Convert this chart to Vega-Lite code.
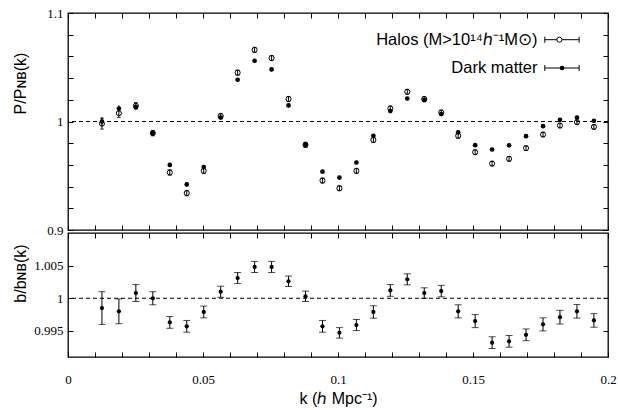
{
  "$schema": "https://vega.github.io/schema/vega-lite/v6.json",
  "background": "white",
  "padding": {"left": 11, "top": 6, "right": 0, "bottom": 0},
  "spacing": 3,
  "bounds": "flush",
  "datasets": {
    "top": [
      {"k": 0.01257, "dm": 1.000, "dmErr": 0.004, "halo": 0.998, "haloErr": 0.005},
      {"k": 0.01885, "dm": 1.012, "dmErr": 0.003, "halo": 1.0077, "haloErr": 0.004},
      {"k": 0.02513, "dm": 1.0133, "dmErr": 0.0025, "halo": 1.0145, "haloErr": 0.003},
      {"k": 0.03142, "dm": 0.9893, "dmErr": 0.002, "halo": 0.9893, "haloErr": 0.0025},
      {"k": 0.0377, "dm": 0.960, "dmErr": 0.002, "halo": 0.953, "haloErr": 0.0025},
      {"k": 0.04398, "dm": 0.942, "dmErr": 0.002, "halo": 0.934, "haloErr": 0.0025},
      {"k": 0.05027, "dm": 0.958, "dmErr": 0.002, "halo": 0.9545, "haloErr": 0.0025},
      {"k": 0.05655, "dm": 1.0037, "dmErr": 0.002, "halo": 1.005, "haloErr": 0.0025},
      {"k": 0.06283, "dm": 1.0385, "dmErr": 0.0018, "halo": 1.045, "haloErr": 0.0024},
      {"k": 0.06912, "dm": 1.056, "dmErr": 0.0018, "halo": 1.066, "haloErr": 0.0024},
      {"k": 0.0754, "dm": 1.048, "dmErr": 0.0018, "halo": 1.0585, "haloErr": 0.0024},
      {"k": 0.08168, "dm": 1.0148, "dmErr": 0.0018, "halo": 1.0207, "haloErr": 0.0024},
      {"k": 0.08796, "dm": 0.9785, "dmErr": 0.0018, "halo": 0.9785, "haloErr": 0.0024},
      {"k": 0.09425, "dm": 0.9538, "dmErr": 0.0017, "halo": 0.9456, "haloErr": 0.0023},
      {"k": 0.10053, "dm": 0.9483, "dmErr": 0.0017, "halo": 0.9385, "haloErr": 0.0023},
      {"k": 0.10681, "dm": 0.9622, "dmErr": 0.0017, "halo": 0.9545, "haloErr": 0.0023},
      {"k": 0.1131, "dm": 0.9868, "dmErr": 0.0017, "halo": 0.983, "haloErr": 0.0023},
      {"k": 0.11938, "dm": 1.0096, "dmErr": 0.0017, "halo": 1.012, "haloErr": 0.0023},
      {"k": 0.12566, "dm": 1.0212, "dmErr": 0.0016, "halo": 1.0274, "haloErr": 0.0022},
      {"k": 0.13195, "dm": 1.0197, "dmErr": 0.0016, "halo": 1.0207, "haloErr": 0.0022},
      {"k": 0.13823, "dm": 1.0068, "dmErr": 0.0016, "halo": 1.0083, "haloErr": 0.0022},
      {"k": 0.14451, "dm": 0.990, "dmErr": 0.0016, "halo": 0.9868, "haloErr": 0.0022},
      {"k": 0.1508, "dm": 0.9782, "dmErr": 0.0016, "halo": 0.9717, "haloErr": 0.0022},
      {"k": 0.15708, "dm": 0.9742, "dmErr": 0.0015, "halo": 0.9612, "haloErr": 0.0021},
      {"k": 0.16336, "dm": 0.978, "dmErr": 0.0015, "halo": 0.9656, "haloErr": 0.0021},
      {"k": 0.16965, "dm": 0.9865, "dmErr": 0.0015, "halo": 0.9754, "haloErr": 0.0021},
      {"k": 0.17593, "dm": 0.9957, "dmErr": 0.0015, "halo": 0.988, "haloErr": 0.0021},
      {"k": 0.18221, "dm": 1.0016, "dmErr": 0.0015, "halo": 0.9963, "haloErr": 0.0021},
      {"k": 0.1885, "dm": 1.0037, "dmErr": 0.0015, "halo": 0.9994, "haloErr": 0.002},
      {"k": 0.19478, "dm": 1.0007, "dmErr": 0.0015, "halo": 0.995, "haloErr": 0.002}
    ],
    "bottom": [
      {"k": 0.01257, "b": 0.9985, "err": 0.0025},
      {"k": 0.01885, "b": 0.9980, "err": 0.0019},
      {"k": 0.02513, "b": 1.0008, "err": 0.0013},
      {"k": 0.03142, "b": 1.0000, "err": 0.001},
      {"k": 0.0377, "b": 0.9963, "err": 0.0009},
      {"k": 0.04398, "b": 0.9957, "err": 0.0009},
      {"k": 0.05027, "b": 0.9979, "err": 0.0009},
      {"k": 0.05655, "b": 1.0010, "err": 0.00085},
      {"k": 0.06283, "b": 1.0031, "err": 0.00085},
      {"k": 0.06912, "b": 1.0048, "err": 0.00085},
      {"k": 0.0754, "b": 1.0048, "err": 0.00085},
      {"k": 0.08168, "b": 1.0026, "err": 0.0008},
      {"k": 0.08796, "b": 1.0003, "err": 0.0008},
      {"k": 0.09425, "b": 0.9957, "err": 0.0009},
      {"k": 0.10053, "b": 0.9947, "err": 0.0008},
      {"k": 0.10681, "b": 0.9959, "err": 0.00085},
      {"k": 0.1131, "b": 0.9979, "err": 0.00095},
      {"k": 0.11938, "b": 1.0012, "err": 0.0009},
      {"k": 0.12566, "b": 1.0029, "err": 0.00085},
      {"k": 0.13195, "b": 1.0008, "err": 0.0008},
      {"k": 0.13823, "b": 1.0011, "err": 0.00088},
      {"k": 0.14451, "b": 0.9980, "err": 0.001},
      {"k": 0.1508, "b": 0.9965, "err": 0.001},
      {"k": 0.15708, "b": 0.9932, "err": 0.0009},
      {"k": 0.16336, "b": 0.9934, "err": 0.0009},
      {"k": 0.16965, "b": 0.9944, "err": 0.0009},
      {"k": 0.17593, "b": 0.9960, "err": 0.001},
      {"k": 0.18221, "b": 0.9971, "err": 0.00105},
      {"k": 0.1885, "b": 0.9980, "err": 0.00104},
      {"k": 0.19478, "b": 0.9966, "err": 0.00104}
    ]
  },
  "vconcat": [
    {
      "width": 540,
      "height": 217,
      "layer": [
        {
          "data": {"values": [{}]},
          "mark": {"type": "rule", "strokeDash": [4, 3], "color": "black", "strokeWidth": 1},
          "encoding": {
            "y": {"datum": 1, "type": "quantitative", "scale": {"domain": [0.9, 1.1], "nice": false, "zero": false}, "axis": null}
          }
        },
        {
          "data": {"name": "top"},
          "mark": {"type": "errorbar", "ticks": {"size": 4}, "color": "black", "thickness": 1},
          "encoding": {
            "x": {"field": "k", "type": "quantitative", "scale": {"domain": [0, 0.2], "nice": false, "zero": false}, "axis": null},
            "y": {"field": "halo", "type": "quantitative", "scale": {"domain": [0.9, 1.1], "nice": false, "zero": false}, "axis": null},
            "yError": {"field": "haloErr"}
          }
        },
        {
          "data": {"name": "top"},
          "mark": {"type": "errorbar", "color": "black", "thickness": 1},
          "encoding": {
            "x": {"field": "k", "type": "quantitative", "axis": null},
            "y": {"field": "dm", "type": "quantitative", "axis": null},
            "yError": {"field": "dmErr"}
          }
        },
        {
          "data": {"name": "top"},
          "mark": {"type": "point", "shape": "circle", "filled": false, "size": 26, "stroke": "black", "strokeWidth": 1, "opacity": 1},
          "encoding": {
            "x": {"field": "k", "type": "quantitative", "axis": {"orient": "top", "values": [0,0.01,0.02,0.03,0.04,0.05,0.06,0.07,0.08,0.09,0.1,0.11,0.12,0.13,0.14,0.15,0.16,0.17,0.18,0.19,0.2], "labels": false, "offset": -5, "tickSize": 5, "title": null, "domain": false}},
            "y": {"field": "halo", "type": "quantitative", "axis": {"orient": "right", "values": [0.9,0.92,0.94,0.96,0.98,1,1.02,1.04,1.06,1.08,1.1], "labels": false, "offset": -5, "tickSize": 5, "title": null, "domain": false}}
          }
        },
        {
          "data": {"name": "top"},
          "mark": {"type": "point", "shape": "circle", "filled": true, "size": 22, "color": "black", "opacity": 1},
          "encoding": {
            "x": {"field": "k", "type": "quantitative", "axis": {"orient": "bottom", "values": [0,0.01,0.02,0.03,0.04,0.05,0.06,0.07,0.08,0.09,0.1,0.11,0.12,0.13,0.14,0.15,0.16,0.17,0.18,0.19,0.2], "labels": false, "offset": -5, "tickSize": 5, "title": null, "domain": false}},
            "y": {"field": "dm", "type": "quantitative", "axis": {"orient": "left", "values": [0.9,0.92,0.94,0.96,0.98,1,1.02,1.04,1.06,1.08,1.1], "labelExpr": "abs(datum.value*10-round(datum.value*10))<0.000001 ? format(datum.value,'~g') : ''", "offset": -5, "tickSize": 5, "labelPadding": 5, "title": "P/Pɴʙ(k)", "titleX": -45, "titleY": 70, "domain": false}}
          }
        },
        {
          "data": {"values": [{}]},
          "mark": {"type": "text", "text": "Halos (M>10¹⁴ℎ⁻¹M⊙)", "align": "right", "baseline": "middle", "font": "Liberation Sans", "fontSize": 16.5, "color": "black"},
          "encoding": {
            "x": {"datum": 0.1739, "type": "quantitative", "axis": null},
            "y": {"datum": 1.0754, "type": "quantitative", "axis": null}
          }
        },
        {
          "data": {"values": [{}]},
          "mark": {"type": "text", "text": "Dark matter", "align": "right", "baseline": "middle", "font": "Liberation Sans", "fontSize": 16.5, "color": "black"},
          "encoding": {
            "x": {"datum": 0.1739, "type": "quantitative", "axis": null},
            "y": {"datum": 1.0493, "type": "quantitative", "axis": null}
          }
        },
        {
          "data": {"values": [{}]},
          "mark": {"type": "rule", "color": "black", "strokeWidth": 1},
          "encoding": {
            "x": {"datum": 0.1766, "type": "quantitative", "axis": null},
            "x2": {"datum": 0.1893},
            "y": {"datum": 1.0754, "type": "quantitative", "axis": null}
          }
        },
        {
          "data": {"values": [{}]},
          "mark": {"type": "rule", "color": "black", "strokeWidth": 1},
          "encoding": {
            "x": {"datum": 0.1766, "type": "quantitative", "axis": null},
            "x2": {"datum": 0.1893},
            "y": {"datum": 1.0493, "type": "quantitative", "axis": null}
          }
        },
        {
          "data": {"values": [{}]},
          "mark": {"type": "tick", "orient": "vertical", "size": 6, "thickness": 1, "color": "black", "opacity": 1},
          "encoding": {
            "x": {"datum": 0.1766, "type": "quantitative", "axis": null},
            "y": {"datum": 1.0754, "type": "quantitative", "axis": null}
          }
        },
        {
          "data": {"values": [{}]},
          "mark": {"type": "tick", "orient": "vertical", "size": 6, "thickness": 1, "color": "black", "opacity": 1},
          "encoding": {
            "x": {"datum": 0.1893, "type": "quantitative", "axis": null},
            "y": {"datum": 1.0754, "type": "quantitative", "axis": null}
          }
        },
        {
          "data": {"values": [{}]},
          "mark": {"type": "tick", "orient": "vertical", "size": 6, "thickness": 1, "color": "black", "opacity": 1},
          "encoding": {
            "x": {"datum": 0.1766, "type": "quantitative", "axis": null},
            "y": {"datum": 1.0493, "type": "quantitative", "axis": null}
          }
        },
        {
          "data": {"values": [{}]},
          "mark": {"type": "tick", "orient": "vertical", "size": 6, "thickness": 1, "color": "black", "opacity": 1},
          "encoding": {
            "x": {"datum": 0.1893, "type": "quantitative", "axis": null},
            "y": {"datum": 1.0493, "type": "quantitative", "axis": null}
          }
        },
        {
          "data": {"values": [{}]},
          "mark": {"type": "point", "shape": "circle", "filled": true, "fill": "white", "size": 26, "stroke": "black", "strokeWidth": 1, "opacity": 1},
          "encoding": {
            "x": {"datum": 0.182, "type": "quantitative", "axis": null},
            "y": {"datum": 1.0754, "type": "quantitative", "axis": null}
          }
        },
        {
          "data": {"values": [{}]},
          "mark": {"type": "point", "shape": "circle", "filled": true, "size": 22, "color": "black", "opacity": 1},
          "encoding": {
            "x": {"datum": 0.183, "type": "quantitative", "axis": null},
            "y": {"datum": 1.0493, "type": "quantitative", "axis": null}
          }
        }
      ],
      "resolve": {"axis": {"x": "independent", "y": "independent"}}
    },
    {
      "width": 540,
      "height": 124,
      "layer": [
        {
          "data": {"values": [{}]},
          "mark": {"type": "rule", "strokeDash": [4, 3], "color": "black", "strokeWidth": 1},
          "encoding": {
            "y": {"datum": 1, "type": "quantitative", "scale": {"domain": [0.991, 1.01], "nice": false, "zero": false}, "axis": {"orient": "right", "values": [0.995, 1, 1.005], "labels": false, "offset": -5, "tickSize": 5, "title": null, "domain": false}}
          }
        },
        {
          "data": {"name": "bottom"},
          "mark": {"type": "errorbar", "ticks": {"size": 7}, "color": "black", "thickness": 1},
          "encoding": {
            "x": {"field": "k", "type": "quantitative", "scale": {"domain": [0, 0.2], "nice": false, "zero": false}, "axis": null},
            "y": {"field": "b", "type": "quantitative", "scale": {"domain": [0.991, 1.01], "nice": false, "zero": false}, "axis": null},
            "yError": {"field": "err"}
          }
        },
        {
          "data": {"name": "bottom"},
          "mark": {"type": "point", "shape": "circle", "filled": true, "size": 0, "opacity": 0},
          "encoding": {
            "x": {"field": "k", "type": "quantitative", "axis": {"orient": "top", "values": [0,0.01,0.02,0.03,0.04,0.05,0.06,0.07,0.08,0.09,0.1,0.11,0.12,0.13,0.14,0.15,0.16,0.17,0.18,0.19,0.2], "labels": false, "offset": -5, "tickSize": 5, "title": null, "domain": false}},
            "y": {"field": "b", "type": "quantitative", "axis": null}
          }
        },
        {
          "data": {"name": "bottom"},
          "mark": {"type": "point", "shape": "circle", "filled": true, "size": 18, "color": "black", "opacity": 1},
          "encoding": {
            "x": {"field": "k", "type": "quantitative", "axis": {"orient": "bottom", "values": [0,0.01,0.02,0.03,0.04,0.05,0.06,0.07,0.08,0.09,0.1,0.11,0.12,0.13,0.14,0.15,0.16,0.17,0.18,0.19,0.2], "labelExpr": "abs(datum.value*20-round(datum.value*20))<0.000001 ? format(datum.value,'~g') : ''", "offset": -5, "tickSize": 5, "labelPadding": 16, "title": "k (ℎ Mpc⁻¹)", "titlePadding": 4, "domain": false}},
            "y": {"field": "b", "type": "quantitative", "axis": {"orient": "left", "values": [0.995, 1, 1.005], "format": "~g", "offset": -5, "tickSize": 5, "labelPadding": 5, "title": "b/bɴʙ(k)", "titleX": -45, "titleY": 40, "domain": false}}
          }
        }
      ],
      "resolve": {"axis": {"x": "independent", "y": "independent"}}
    }
  ],
  "config": {
    "view": {"stroke": "black", "strokeWidth": 1.3},
    "axis": {
      "domain": false,
      "grid": false,
      "labelFont": "Liberation Serif",
      "labelFontSize": 13,
      "labelColor": "black",
      "tickColor": "black",
      "tickWidth": 1,
      "titleFont": "Liberation Sans",
      "titleFontSize": 16,
      "titleFontWeight": "normal",
      "titleColor": "black",
      "labelOverlap": false,
      "labelFlush": false
    }
  }
}
